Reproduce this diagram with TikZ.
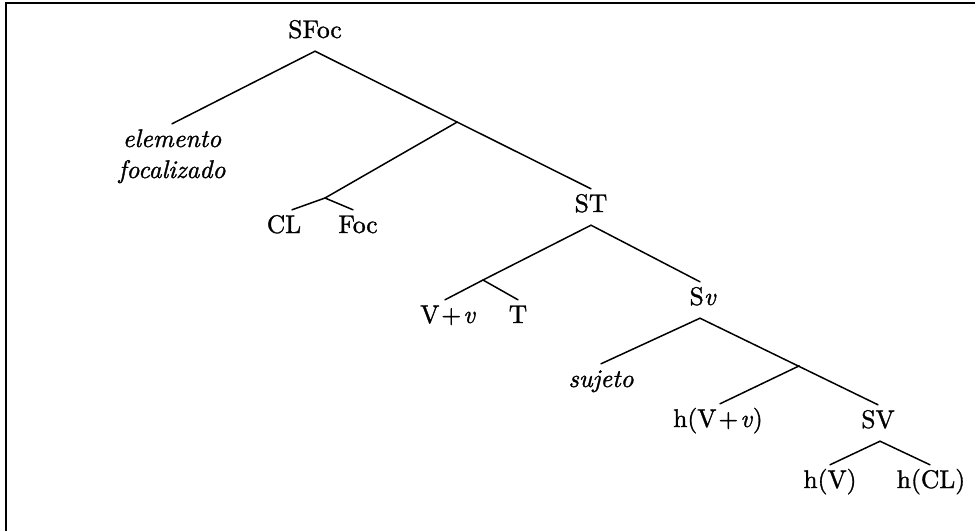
\documentclass[tikz,border=0pt]{standalone}
\usepackage{fix-cm}
\usepackage{fontspec}
\setmainfont{lmroman10}[Extension=.otf, UprightFont=*-regular, ItalicFont=*-italic, BoldFont=*-bold, FakeBold=1.2]
\usetikzlibrary{calc}
\newcommand{\vplus}{V\kern2pt+\kern2pt\textit{v}}
\tikzset{
  lbl/.style={anchor=base, inner sep=0pt, text height=23pt, text depth=13pt,
              font=\fontsize{25.5}{31}\selectfont},
  branch/.style={line width=1.5pt, line cap=round},
  frameline/.style={line width=2.8pt}
}
\begin{document}
\begin{tikzpicture}[x=1pt,y=-1pt]
\useasboundingbox (0,0) rectangle (975,531);
% frame (top and left edges only, as cropped)
\coordinate (fTL) at (6,3);
\coordinate (fTR) at (975,3);
\coordinate (fBL) at (6,531);
\draw[frameline] (fTR) -- (fTL) -- (fBL);

% labels
\node[lbl] (SFoc) at (315,38) {SFoc};
\node[lbl] (elem1) at (172,147) {\itshape elemento};
\node[lbl] (elem2) at (172,178) {\itshape focalizado};
\node[lbl] (CL) at (284,233) {CL};
\node[lbl] (Foc) at (358,233) {Foc};
\node[lbl] (ST) at (591,212) {ST};
\node[lbl] (Vv) at (448,323) {\vplus};
\node[lbl] (T) at (518,323) {T};
\node[lbl] (Sv) at (703,305) {S\textit{v}};
\node[lbl] (suj) at (601,387) {\itshape sujeto};
\node[lbl] (hVv) at (718,427) {h(\vplus)};
\node[lbl] (SV) at (878,428) {SV};
\node[lbl] (hV) at (830,488) {h(V)};
\node[lbl] (hCL) at (931,488) {h(CL)};

% junctions
\coordinate (J1) at ($(SFoc.south)!0.515!(ST.north)$);
\coordinate (J2) at (325,198);
\coordinate (J3) at (483,280);
\coordinate (J4) at ($(Sv.south)!0.55!(SV.north)$);

% branches
\draw[branch] (SFoc.south) -- (elem1.north);
\draw[branch] (SFoc.south) -- (ST.north);
\draw[branch] (J1) -- (J2);
\draw[branch] (J2) -- ([xshift=8pt]CL.north);
\draw[branch] (J2) -- ([xshift=-5pt]Foc.north);
\draw[branch] (ST.south) -- (J3);
\draw[branch] (J3) -- ([xshift=-3pt]Vv.north);
\draw[branch] (J3) -- (T.north);
\draw[branch] (ST.south) -- ([xshift=-3pt]Sv.north);
\draw[branch] ([xshift=-3pt]Sv.south) -- (suj.north);
\draw[branch] ([xshift=-3pt]Sv.south) -- (SV.north);
\draw[branch] (J4) -- ([xshift=2pt]hVv.north);
\draw[branch] ([xshift=2pt]SV.south) -- (hV.north);
\draw[branch] ([xshift=2pt]SV.south) -- ([xshift=-1pt]hCL.north);
\end{tikzpicture}
\end{document}
